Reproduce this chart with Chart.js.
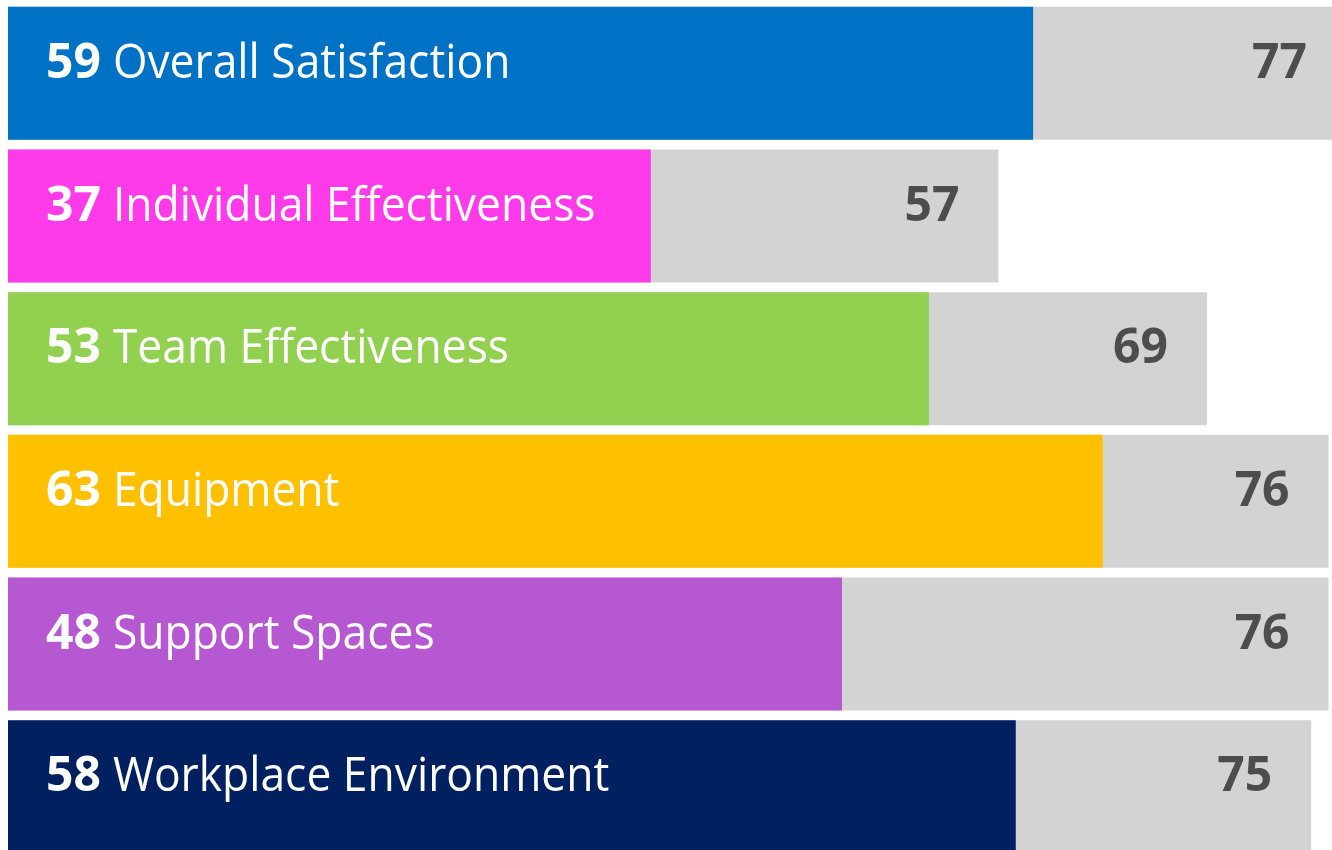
<!DOCTYPE html>
<html>
<head>
<meta charset="utf-8">
<script src="https://cdn.jsdelivr.net/npm/chart.js@4/dist/chart.umd.min.js"></script>
<style>
  html, body { margin: 0; padding: 0; background: #fff; overflow: hidden; }
  #wrap { position: absolute; left: 0; top: 2px; width: 1332px; height: 856px; }
</style>
</head>
<body>
<div id="wrap"><canvas id="scoreChart"></canvas></div>
<script>
// scores vs benchmark
const categories = ['Overall Satisfaction', 'Individual Effectiveness', 'Team Effectiveness', 'Equipment', 'Support Spaces', 'Workplace Environment'];
const scores = [59, 37, 53, 63, 48, 58];
const benchmark = [77, 57, 69, 76, 76, 75];
const barColors = ['#0072C6', '#FF3AE8', '#92D050', '#FFC000', '#B658D2', '#002060'];

const FONT = '"Open Sans", "Noto Sans", sans-serif';
const NAME_SQUEEZE = 0.925; // Open Sans runs wider than the original face

const labelPlugin = {
  id: 'barLabels',
  afterDatasetsDraw(chart) {
    const ctx = chart.ctx;
    const x = chart.scales.x;
    const scoreMeta = chart.getDatasetMeta(0);
    const benchMeta = chart.getDatasetMeta(1);
    ctx.save();
    ctx.textBaseline = 'alphabetic';
    scoreMeta.data.forEach(function (bar, i) {
      const y = bar.y + 4.5;
      const left = x.getPixelForValue(0) + 38;
      ctx.fillStyle = '#ffffff';
      ctx.textAlign = 'left';
      ctx.font = 'bold 48px ' + FONT;
      const num = String(scores[i]);
      ctx.fillText(num, left, y);
      const w = ctx.measureText(num).width + 12;
      ctx.font = '48px ' + FONT;
      ctx.save();
      ctx.translate(left + w, y);
      ctx.scale(NAME_SQUEEZE, 1);
      ctx.fillText(categories[i], 0, 0);
      ctx.restore();

      const end = x.getPixelForValue(benchmark[i]);
      ctx.fillStyle = '#4d4d4d';
      ctx.textAlign = 'right';
      ctx.font = 'bold 48px ' + FONT;
      ctx.fillText(String(benchmark[i]), end - 39, benchMeta.data[i].y + 4.5);
    });
    ctx.restore();
  }
};

new Chart(document.getElementById('scoreChart'), {
  type: 'bar',
  data: {
    labels: categories,
    datasets: [
      {
        label: 'Score',
        data: scores,
        backgroundColor: barColors,
        grouped: false,
        barPercentage: 0.932,
        categoryPercentage: 1
      },
      {
        label: 'Benchmark',
        data: benchmark,
        backgroundColor: '#D3D3D3',
        grouped: false,
        barPercentage: 0.932,
        categoryPercentage: 1
      }
    ]
  },
  options: {
    indexAxis: 'y',
    responsive: true,
    maintainAspectRatio: false,
    animation: false,
    layout: { padding: { left: 8, right: 0, top: 0, bottom: 0 } },
    plugins: {
      legend: { display: false },
      tooltip: { enabled: false }
    },
    scales: {
      x: { display: false, min: 0, max: 76.2 },
      y: { display: false }
    }
  },
  plugins: [labelPlugin]
});
</script>
</body>
</html>
